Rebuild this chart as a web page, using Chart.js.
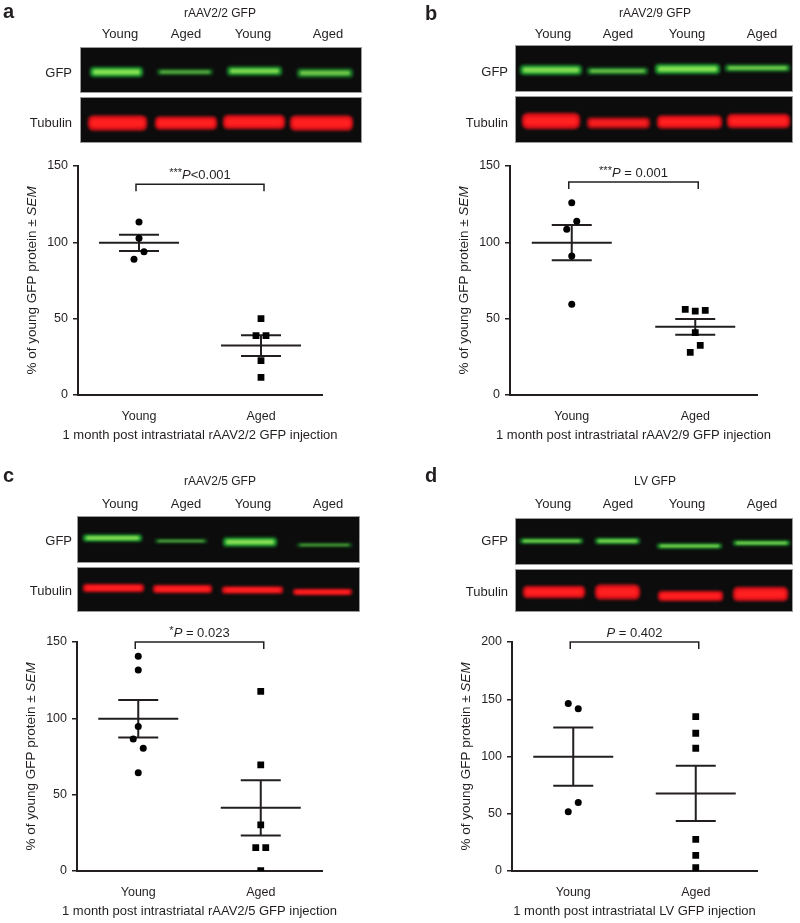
<!DOCTYPE html>
<html><head><meta charset="utf-8">
<script src="https://cdn.jsdelivr.net/npm/chart.js@4.4.1/dist/chart.umd.min.js"></script>
<style>
html,body{margin:0;padding:0;background:#fff;}
#fig{position:relative;width:800px;height:923px;overflow:hidden;font-family:'Liberation Sans',Arial,Helvetica,sans-serif;color:#231f20;}
.t{position:absolute;white-space:nowrap;line-height:1;}
canvas{position:absolute;}
</style></head><body><div id="fig"></div>
<script>
// ---------- DATA ----------
const groups = ['Young', 'Aged'];
const laneLabels = ['Young', 'Aged', 'Young', 'Aged'];
const panelLetters = ['a', 'b', 'c', 'd'];
const vectorTitles = ['rAAV2/2 GFP', 'rAAV2/9 GFP', 'rAAV2/5 GFP', 'LV GFP'];
const xTitles = [
  '1 month post intrastriatal rAAV2/2 GFP injection',
  '1 month post intrastriatal rAAV2/9 GFP injection',
  '1 month post intrastriatal rAAV2/5 GFP injection',
  '1 month post intrastriatal LV GFP injection'
];
const pStars = ['***', '***', '*', ''];
const pValues = ['<0.001', ' = 0.001', ' = 0.023', ' = 0.402'];
const yMaxes = [150, 150, 150, 200];
const yTickStep = 50;

const youngA = [113.3, 102.6, 88.9, 93.9];
const agedA  = [50.0, 38.9, 38.9, 22.5, 11.6];
const youngB = [126.0, 108.5, 113.8, 91.0, 59.4];
const agedB  = [56.1, 55.0, 55.5, 40.8, 27.9, 32.5];
const youngC = [140.6, 131.6, 94.6, 86.5, 80.4, 64.4];
const agedC  = [117.6, 69.5, 30.2, 15.3, 15.3, 0.2];
const youngD = [146.3, 141.6, 51.7, 59.9];
const agedD  = [134.9, 120.3, 107.2, 27.7, 13.7, 2.9];

const youngData = [youngA, youngB, youngC, youngD];
const agedData = [agedA, agedB, agedC, agedD];

// ---------- LAYOUT (positions / decoration only) ----------
const FONT = "'Liberation Sans', Arial, Helvetica, sans-serif";
const INK = '#231f20';
const layout = [
  { lx:3, lby:18, tx:220, tby:17, laneX:[120,186,253,328], laneBY:38,
    gfpBox:[80,47,362,93], tubBox:[80,97,362,143], labelRight:72, gfpBY:77, tubBY:127,
    canvas:{x:0,y:148,w:400,h:302}, area:{l:78,t:166,r:322,b:395}, bracket:138,
    gfpBands:[[90,143,72,10,1.0],[157,213,72,6,0.6],[227,282,71,9,0.9],[297,353,73,9,0.75]],
    tubBands:[[88,147,123,15,1],[155,217,123,13,1],[223,285,122,14,1],[290,353,123,15,1]] },
  { lx:425, lby:20, tx:655, tby:17, laneX:[553,618,687,762], laneBY:38,
    gfpBox:[515,45,793,92], tubBox:[515,96,793,143], labelRight:508, gfpBY:76, tubBY:127,
    canvas:{x:400,y:148,w:400,h:302}, area:{l:510,t:166,r:757,b:395}, bracket:139.5,
    gfpBands:[[520,582,70,10,0.95],[587,648,71,7,0.7],[655,720,69,10,1.0],[725,790,68,7,0.8]],
    tubBands:[[522,580,121,16,1],[587,650,123,11,0.85],[657,722,122,13,1],[727,790,121,14,1]] },
  { lx:3, lby:482, tx:220, tby:485, laneX:[120,186,253,328], laneBY:508,
    gfpBox:[77,516,360,563], tubBox:[77,567,360,612], labelRight:72, gfpBY:545, tubBY:595,
    canvas:{x:0,y:616,w:400,h:307}, area:{l:77,t:642,r:322,b:871}, bracket:150,
    gfpBands:[[83,142,538,7,1.0],[155,207,541,4,0.6],[223,277,542,9,1.0],[297,352,545,4,0.55]],
    tubBands:[[83,144,588,8,1],[153,212,589,8,1],[222,283,590,7,1],[293,352,592,6,1]] },
  { lx:425, lby:482, tx:655, tby:485, laneX:[553,618,687,762], laneBY:508,
    gfpBox:[515,518,793,565], tubBox:[515,569,793,612], labelRight:508, gfpBY:545, tubBY:596,
    canvas:{x:400,y:616,w:400,h:307}, area:{l:512,t:642,r:757,b:871}, bracket:200,
    gfpBands:[[520,583,541,5,0.9],[595,640,541,6,0.9],[657,722,546,5,0.9],[733,790,543,5,0.9]],
    tubBands:[[523,585,592,12,1],[595,640,592,15,1],[658,723,596,10,1],[733,788,594,14,1]] }
];

const fig = document.getElementById('fig');

function addText(x, baseline, str, size, align, weight) {
  const d = document.createElement('div');
  d.className = 't';
  d.textContent = str;
  d.style.fontSize = size + 'px';
  if (weight) d.style.fontWeight = weight;
  d.style.top = (baseline - 0.846 * size) + 'px';
  if (align === 'center') { d.style.left = x + 'px'; d.style.transform = 'translateX(-50%)'; }
  else if (align === 'right') { d.style.right = (800 - x) + 'px'; }
  else d.style.left = x + 'px';
  fig.appendChild(d);
}

// ---------- Blot images (decorative) ----------
const bg = document.createElement('canvas');
bg.width = 800; bg.height = 923;
bg.style.left = '0px'; bg.style.top = '0px';
fig.appendChild(bg);
const bctx = bg.getContext('2d');

function rr(ctx, x, y, w, h, r) {
  r = Math.min(r, h / 2, w / 2);
  ctx.beginPath();
  ctx.moveTo(x + r, y);
  ctx.lineTo(x + w - r, y);
  ctx.quadraticCurveTo(x + w, y, x + w, y + r);
  ctx.lineTo(x + w, y + h - r);
  ctx.quadraticCurveTo(x + w, y + h, x + w - r, y + h);
  ctx.lineTo(x + r, y + h);
  ctx.quadraticCurveTo(x, y + h, x, y + h - r);
  ctx.lineTo(x, y + r);
  ctx.quadraticCurveTo(x, y, x + r, y);
  ctx.closePath();
}
function drawBox(b) {
  bctx.fillStyle = '#0c0c0c';
  bctx.fillRect(b[0], b[1], b[2] - b[0], b[3] - b[1]);
  bctx.strokeStyle = '#9a9a9a';
  bctx.lineWidth = 1;
  bctx.strokeRect(b[0] + 0.5, b[1] + 0.5, b[2] - b[0] - 1, b[3] - b[1] - 1);
}
function drawBand(bd, outer, core) {
  const [x1, x2, yc, h, a] = bd;
  bctx.save();
  bctx.globalAlpha = a;
  bctx.filter = 'blur(1.6px)';
  bctx.fillStyle = outer;
  rr(bctx, x1, yc - h / 2, x2 - x1, h, h / 2.5);
  bctx.fill();
  bctx.filter = 'blur(1.2px)';
  bctx.fillStyle = core;
  rr(bctx, x1 + 3, yc - h / 4, x2 - x1 - 6, Math.max(h / 2, 1.5), h / 4);
  bctx.fill();
  bctx.restore();
}

layout.forEach((L, i) => {
  addText(L.lx, L.lby, panelLetters[i], 20, 'left', 'bold');
  addText(L.tx, L.tby, vectorTitles[i], 12, 'center');
  L.laneX.forEach((x, k) => addText(x, L.laneBY, laneLabels[k], 13, 'center'));
  addText(L.labelRight, L.gfpBY, 'GFP', 13, 'right');
  addText(L.labelRight, L.tubBY, 'Tubulin', 13, 'right');
  drawBox(L.gfpBox);
  drawBox(L.tubBox);
  bctx.save();
  bctx.beginPath();
  bctx.rect(L.gfpBox[0] + 1, L.gfpBox[1] + 1, L.gfpBox[2] - L.gfpBox[0] - 2, L.gfpBox[3] - L.gfpBox[1] - 2);
  bctx.clip();
  L.gfpBands.forEach(bd => drawBand(bd, '#1f9a30', '#86e052'));
  bctx.restore();
  bctx.save();
  bctx.beginPath();
  bctx.rect(L.tubBox[0] + 1, L.tubBox[1] + 1, L.tubBox[2] - L.tubBox[0] - 2, L.tubBox[3] - L.tubBox[1] - 2);
  bctx.clip();
  L.tubBands.forEach(bd => drawBand(bd, '#e0121a', '#ff2020'));
  bctx.restore();
});

// ---------- Chart plugins ----------
function mean(a) { return a.reduce((s, v) => s + v, 0) / a.length; }
function sem(a) {
  const m = mean(a);
  const sd = Math.sqrt(a.reduce((s, v) => s + (v - m) * (v - m), 0) / (a.length - 1));
  return sd / Math.sqrt(a.length);
}

const jitterPlugin = {
  id: 'jitter',
  afterDatasetsUpdate(chart) {
    chart.data.datasets.forEach((ds, di) => {
      const els = chart.getDatasetMeta(di).data;
      if (!els.length) return;
      const idx = els.map((e, i) => i).sort((a, b) => els[a].y - els[b].y);
      const clusters = [];
      let cur = [idx[0]];
      for (let k = 1; k < idx.length; k++) {
        if (els[idx[k]].y - els[idx[k - 1]].y < 11) cur.push(idx[k]);
        else { clusters.push(cur); cur = [idx[k]]; }
      }
      clusters.push(cur);
      clusters.forEach(c => {
        c.sort((a, b) => a - b);
        const n = c.length;
        c.forEach((i, j) => { els[i].x += (j - (n - 1) / 2) * 10; });
      });
    });
  }
};

const decorPlugin = {
  id: 'decor',
  beforeDatasetsDraw(chart, args, opts) {
    const ctx = chart.ctx, xs = chart.scales.x, ys = chart.scales.y;
    ctx.save();
    ctx.strokeStyle = INK;
    ctx.lineWidth = 2;
    chart.data.datasets.forEach((ds, gi) => {
      const vals = ds.data.map(p => p.y);
      const m = mean(vals), s = sem(vals);
      const x = xs.getPixelForValue(gi);
      const ym = ys.getPixelForValue(m), yu = ys.getPixelForValue(m + s), yl = ys.getPixelForValue(m - s);
      ctx.beginPath();
      ctx.moveTo(x - 40, ym); ctx.lineTo(x + 40, ym);
      ctx.moveTo(x - 20, yu); ctx.lineTo(x + 20, yu);
      ctx.moveTo(x - 20, yl); ctx.lineTo(x + 20, yl);
      ctx.moveTo(x, yu); ctx.lineTo(x, yl);
      ctx.stroke();
    });
    ctx.restore();
  },
  afterDraw(chart, args, opts) {
    const ctx = chart.ctx, xs = chart.scales.x, ys = chart.scales.y, A = chart.chartArea;
    ctx.save();
    ctx.fillStyle = INK;
    ctx.strokeStyle = INK;
    // bracket
    const x1 = xs.getPixelForValue(0) - 3, x2 = xs.getPixelForValue(1) + 3;
    const yb = ys.getPixelForValue(opts.bracket);
    ctx.lineWidth = 1.5;
    ctx.beginPath();
    ctx.moveTo(x1, yb + 7); ctx.lineTo(x1, yb); ctx.lineTo(x2, yb); ctx.lineTo(x2, yb + 7);
    ctx.stroke();
    // p text
    const segs = [
      { t: opts.stars, f: '11px ' + FONT, dy: -3 },
      { t: 'P', f: 'italic 13px ' + FONT, dy: 0 },
      { t: opts.pval, f: '13px ' + FONT, dy: 0 }
    ];
    let w = 0;
    segs.forEach(s => { ctx.font = s.f; s.w = ctx.measureText(s.t).width; w += s.w; });
    let cx = (x1 + x2) / 2 - w / 2;
    ctx.textBaseline = 'alphabetic';
    ctx.textAlign = 'left';
    segs.forEach(s => { ctx.font = s.f; ctx.fillText(s.t, cx, yb - 5 + s.dy); cx += s.w; });
    // x title
    ctx.font = '13px ' + FONT;
    ctx.textAlign = 'center';
    ctx.fillText(opts.xTitle, (A.left + A.right) / 2, A.bottom + 44);
    // y title
    ctx.translate(A.left - 42, (A.top + A.bottom) / 2);
    ctx.rotate(-Math.PI / 2);
    const ys1 = [{ t: '% of young GFP protein \u00b1 ', f: '13.5px ' + FONT }, { t: 'SEM', f: 'italic 13.5px ' + FONT }];
    let tw = 0;
    ys1.forEach(s => { ctx.font = s.f; s.w = ctx.measureText(s.t).width; tw += s.w; });
    let px = -tw / 2;
    ctx.textAlign = 'left';
    ys1.forEach(s => { ctx.font = s.f; ctx.fillText(s.t, px, 0); px += s.w; });
    ctx.restore();
  }
};

// ---------- Charts ----------
layout.forEach((L, i) => {
  const cv = document.createElement('canvas');
  cv.width = L.canvas.w; cv.height = L.canvas.h;
  cv.style.left = L.canvas.x + 'px'; cv.style.top = L.canvas.y + 'px';
  cv.style.width = L.canvas.w + 'px'; cv.style.height = L.canvas.h + 'px';
  fig.appendChild(cv);
  const padTop = L.area.t - L.canvas.y;
  const padRight = (L.canvas.x + L.canvas.w) - L.area.r;
  const yW = L.area.l - L.canvas.x;
  const xH = (L.canvas.y + L.canvas.h) - L.area.b;
  new Chart(cv, {
    type: 'scatter',
    data: {
      labels: groups,
      datasets: [
        { label: groups[0], data: youngData[i].map(v => ({ x: groups[0], y: v })),
          pointStyle: 'circle', pointRadius: 3.5, backgroundColor: '#000', borderWidth: 0 },
        { label: groups[1], data: agedData[i].map(v => ({ x: groups[1], y: v })),
          pointStyle: 'rect', pointRadius: 4.8, backgroundColor: '#000', borderWidth: 0 }
      ]
    },
    options: {
      responsive: false,
      animation: false,
      events: [],
      devicePixelRatio: 1,
      layout: { padding: { top: padTop, right: padRight, left: 0, bottom: 0 } },
      plugins: {
        legend: { display: false },
        tooltip: { enabled: false },
        decor: { bracket: L.bracket, stars: pStars[i], pval: pValues[i], xTitle: xTitles[i] }
      },
      scales: {
        x: {
          type: 'category', labels: groups, offset: true,
          grid: { display: false },
          border: { display: true, color: INK, width: 2 },
          ticks: { padding: 6, color: INK, font: { family: FONT, size: 12.5 } },
          afterFit: s => { s.height = xH; }
        },
        y: {
          min: 0, max: yMaxes[i],
          ticks: { stepSize: yTickStep, padding: 5, color: INK, font: { family: FONT, size: 12.5 } },
          grid: { display: true, drawOnChartArea: false, drawTicks: true, tickLength: 5, color: INK, lineWidth: 1.5 },
          border: { display: true, color: INK, width: 2 },
          afterFit: s => { s.width = yW; }
        }
      }
    },
    plugins: [jitterPlugin, decorPlugin]
  });
});
</script>
</body></html>
